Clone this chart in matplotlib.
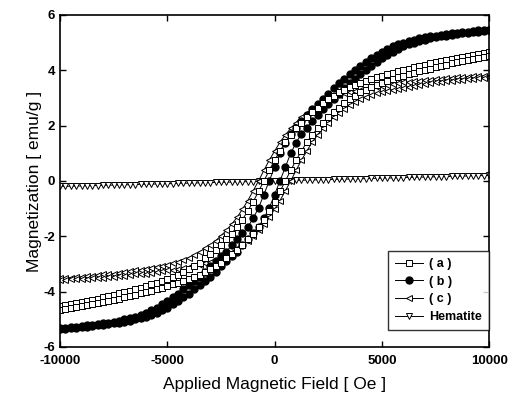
import numpy as np
import matplotlib
matplotlib.use("Agg")
import matplotlib.pyplot as plt

plt.rcParams['font.family'] = ['Liberation Sans', 'DejaVu Sans']
plt.rcParams['axes.unicode_minus'] = False

# Applied field grid (Oe), step 250
field = np.arange(-10000, 10001, 250)

# (a) descending / ascending branches
a_up = [-4.52,-4.49,-4.45,-4.41,-4.37,-4.33,-4.29,-4.25,-4.20,-4.16,
        -4.11,-4.06,-4.01,-3.96,-3.91,-3.86,-3.80,-3.74,-3.68,-3.62,
        -3.55,-3.48,-3.40,-3.30,-3.20,-3.08,-2.95,-2.80,-2.65,-2.48,
        -2.30,-2.11,-1.90,-1.66,-1.40,-1.08,-0.75,-0.38,0.00,0.38,
        0.75,1.08,1.40,1.66,1.90,2.11,2.30,2.48,2.65,2.80,
        2.95,3.08,3.20,3.30,3.40,3.48,3.55,3.62,3.68,3.74,
        3.80,3.86,3.91,3.96,4.01,4.06,4.11,4.16,4.20,4.25,
        4.29,4.33,4.37,4.41,4.45,4.49,4.52,4.56,4.59,4.62,
        4.65]
a_lo = [-4.65,-4.62,-4.59,-4.56,-4.52,-4.49,-4.45,-4.41,-4.37,-4.33,
        -4.29,-4.25,-4.20,-4.16,-4.11,-4.06,-4.01,-3.96,-3.91,-3.86,
        -3.80,-3.74,-3.68,-3.62,-3.55,-3.48,-3.40,-3.30,-3.20,-3.08,
        -2.95,-2.80,-2.65,-2.48,-2.30,-2.11,-1.90,-1.66,-1.40,-1.08,
        -0.75,-0.38,0.00,0.38,0.75,1.08,1.40,1.66,1.90,2.11,
        2.30,2.48,2.65,2.80,2.95,3.08,3.20,3.30,3.40,3.48,
        3.55,3.62,3.68,3.74,3.80,3.86,3.91,3.96,4.01,4.06,
        4.11,4.16,4.20,4.25,4.29,4.33,4.37,4.41,4.45,4.49,
        4.52]

# (b)
b_up = [-5.33,-5.31,-5.29,-5.27,-5.25,-5.22,-5.20,-5.17,-5.15,-5.12,
        -5.09,-5.05,-5.00,-4.95,-4.90,-4.85,-4.77,-4.68,-4.58,-4.46,
        -4.34,-4.21,-4.07,-3.92,-3.77,-3.63,-3.46,-3.28,-3.09,-2.89,
        -2.72,-2.55,-2.33,-2.11,-1.88,-1.67,-1.35,-0.98,-0.49,0.00,
        0.50,1.00,1.38,1.70,1.92,2.15,2.38,2.60,2.78,2.95,
        3.15,3.35,3.53,3.70,3.85,4.00,4.15,4.30,4.43,4.55,
        4.67,4.78,4.87,4.95,5.00,5.05,5.10,5.15,5.19,5.22,
        5.25,5.28,5.31,5.33,5.36,5.38,5.40,5.42,5.44,5.45,
        5.46]
b_lo = [-5.35,-5.34,-5.33,-5.31,-5.29,-5.27,-5.25,-5.22,-5.20,-5.17,
        -5.15,-5.12,-5.09,-5.05,-5.00,-4.95,-4.90,-4.85,-4.77,-4.68,
        -4.58,-4.46,-4.34,-4.21,-4.07,-3.92,-3.77,-3.63,-3.46,-3.28,
        -3.09,-2.89,-2.72,-2.55,-2.33,-2.11,-1.88,-1.67,-1.35,-0.98,
        -0.49,0.00,0.50,1.00,1.38,1.70,1.92,2.15,2.38,2.60,
        2.78,2.95,3.15,3.35,3.53,3.70,3.85,4.00,4.15,4.30,
        4.43,4.55,4.67,4.78,4.87,4.95,5.00,5.05,5.10,5.15,
        5.19,5.22,5.25,5.28,5.31,5.33,5.36,5.38,5.40,5.42,
        5.44]

# (c)
c_up = [-3.52,-3.51,-3.49,-3.48,-3.46,-3.44,-3.42,-3.40,-3.38,-3.37,
        -3.35,-3.32,-3.29,-3.26,-3.23,-3.21,-3.17,-3.13,-3.10,-3.06,
        -3.03,-2.98,-2.92,-2.86,-2.77,-2.68,-2.57,-2.44,-2.31,-2.16,
        -1.98,-1.79,-1.56,-1.32,-1.02,-0.71,-0.36,0.00,0.38,0.75,
        1.08,1.40,1.66,1.90,2.11,2.30,2.46,2.60,2.73,2.85,
        2.95,3.04,3.11,3.17,3.22,3.26,3.30,3.33,3.37,3.41,
        3.44,3.47,3.50,3.53,3.56,3.58,3.60,3.62,3.64,3.66,
        3.68,3.70,3.71,3.73,3.74,3.76,3.77,3.78,3.79,3.80,
        3.81]
c_lo = [-3.58,-3.57,-3.56,-3.55,-3.54,-3.53,-3.52,-3.51,-3.49,-3.48,
        -3.46,-3.44,-3.42,-3.40,-3.38,-3.37,-3.35,-3.32,-3.29,-3.26,
        -3.23,-3.21,-3.17,-3.13,-3.10,-3.06,-3.03,-2.98,-2.92,-2.86,
        -2.77,-2.68,-2.57,-2.44,-2.31,-2.16,-1.98,-1.79,-1.56,-1.32,
        -1.02,-0.71,-0.36,0.00,0.38,0.75,1.08,1.40,1.66,1.90,
        2.11,2.30,2.46,2.60,2.73,2.85,2.95,3.04,3.11,3.17,
        3.22,3.26,3.30,3.33,3.37,3.41,3.44,3.47,3.50,3.53,
        3.56,3.58,3.60,3.62,3.64,3.66,3.68,3.70,3.71,3.73,
        3.74]

# Hematite
hem = [-0.200,-0.195,-0.190,-0.185,-0.180,-0.175,-0.170,-0.165,-0.160,-0.155,
       -0.150,-0.145,-0.140,-0.135,-0.130,-0.125,-0.120,-0.115,-0.110,-0.105,
       -0.100,-0.095,-0.090,-0.085,-0.080,-0.075,-0.070,-0.065,-0.060,-0.055,
       -0.050,-0.045,-0.040,-0.035,-0.030,-0.025,-0.020,-0.015,-0.010,-0.005,
       0.000,0.005,0.010,0.015,0.020,0.025,0.030,0.035,0.040,0.045,
       0.050,0.055,0.060,0.065,0.070,0.075,0.080,0.085,0.090,0.095,
       0.100,0.105,0.110,0.115,0.120,0.125,0.130,0.135,0.140,0.145,
       0.150,0.155,0.160,0.165,0.170,0.175,0.180,0.185,0.190,0.195,
       0.200]

labels = ['( a )', '( b )', '( c )', 'Hematite']
xticks = [-10000, -5000, 0, 5000, 10000]
yticks = [-6, -4, -2, 0, 2, 4, 6]

fig = plt.figure(figsize=(5.09, 4.03), dpi=100)
ax = fig.add_axes([0.118, 0.139, 0.843, 0.824])

lw = 0.7
ms = 5.0
ax.plot(field, hem, color='black', lw=lw, marker='v', ms=ms, mfc='white',
        mec='black', mew=0.7, label=labels[3])
ax.plot(field, c_up, color='black', lw=lw, marker='<', ms=ms, mfc='white',
        mec='black', mew=0.7, label=labels[2])
ax.plot(field, c_lo, color='black', lw=lw, marker='<', ms=ms, mfc='white',
        mec='black', mew=0.7)
ax.plot(field, b_up, color='black', lw=lw, marker='o', ms=ms, mfc='black',
        mec='black', label=labels[1])
ax.plot(field, b_lo, color='black', lw=lw, marker='o', ms=ms, mfc='black',
        mec='black')
ax.plot(field, a_up, color='black', lw=lw, marker='s', ms=ms, mfc='white',
        mec='black', mew=0.7, label=labels[0])
ax.plot(field, a_lo, color='black', lw=lw, marker='s', ms=ms, mfc='white',
        mec='black', mew=0.7)

ax.set_xlim(-10000, 10000)
ax.set_ylim(-6, 6)
ax.set_xticks(xticks)
ax.set_yticks(yticks)
ax.tick_params(direction='in', top=True, right=True, length=4, width=1,
               labelsize=9.5)
ax.tick_params(axis='x', pad=6)
for t in ax.get_xticklabels() + ax.get_yticklabels():
    t.set_fontweight('bold')
for s in ax.spines.values():
    s.set_linewidth(1.2)

ax.set_xlabel('Applied Magnetic Field [ Oe ]', fontsize=12.5, labelpad=7)
ax.set_ylabel('Magnetization [ emu/g ]', fontsize=12.5, labelpad=1)

h, l = ax.get_legend_handles_labels()
order = [3, 2, 1, 0]
leg = ax.legend([h[i] for i in order], [l[i] for i in order], loc='lower right',
                bbox_to_anchor=(1.0, 0.05), fontsize=9, frameon=True,
                fancybox=False, edgecolor='black', borderaxespad=0.0,
                handlelength=2.2, labelspacing=0.45, borderpad=0.6,
                handletextpad=0.5)
leg.get_frame().set_linewidth(1.0)
for t in leg.get_texts():
    t.set_fontweight('bold')

fig.savefig('out.png', dpi=100)
